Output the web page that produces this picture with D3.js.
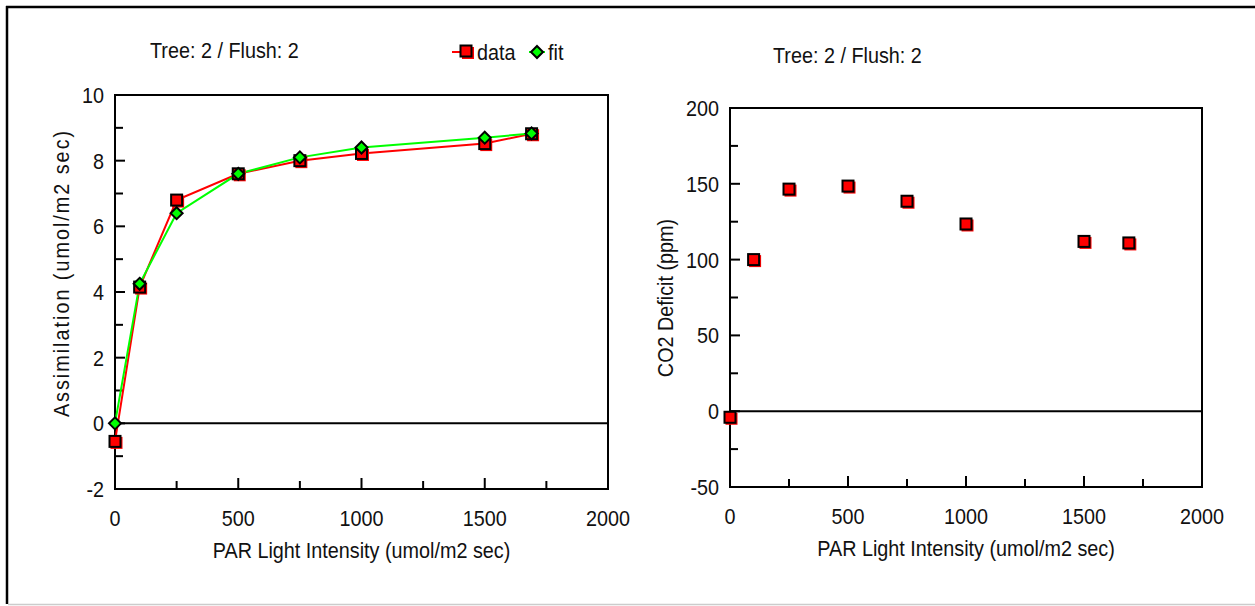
<!DOCTYPE html>
<html>
<head>
<meta charset="utf-8">
<script src="https://d3js.org/d3.v7.min.js"></script>
<style>
    body { margin: 0; background: #fff; }
    text { font-family: "Liberation Sans", Arial, sans-serif; fill: #111; font-size: 22px; }
</style>
</head>
<body>
<script>
//light response data, tree 2 / flush 2
var par = [0, 100, 250, 500, 750, 1000, 1500, 1690];
var assimData = [-0.55, 4.15, 6.8, 7.6, 8.0, 8.22, 8.52, 8.82];
var assimFit = [0, 4.25, 6.4, 7.6, 8.1, 8.4, 8.7, 8.83];
var deficit = [-4, 100, 146.5, 148.5, 138.5, 123.5, 112, 111];

var xTicks = [0, 500, 1000, 1500, 2000];
var assimTicks = [-2, 0, 2, 4, 6, 8, 10];
var deficitTicks = [-50, 0, 50, 100, 150, 200];

var titleText = "Tree: 2 / Flush: 2";
var xLabel = "PAR Light Intensity (umol/m2 sec)";

window.onload = function(){

    var w = 1255, h = 606;
    var svg = d3.select("body")
        .append("svg")
        .attr("width", w)
        .attr("height", h);

    //text in the original is a bit narrow, so squeeze it horizontally
    function label(g, x, y, txt, anchor, rot){
        return g.append("text")
            .attr("transform", "translate(" + x + "," + y + ")" + (rot ? " rotate(-90)" : "") + " scale(0.9,1)")
            .attr("text-anchor", anchor || "start")
            .text(txt);
    }

    //outer frame
    svg.append("line")
        .attr("x1", 7).attr("y1", 6).attr("x2", 7).attr("y2", 604)
        .style("stroke", "#000").style("stroke-width", 2.5);
    svg.append("line")
        .attr("x1", 6).attr("y1", 7).attr("x2", w).attr("y2", 7)
        .style("stroke", "#000").style("stroke-width", 2.5);
    svg.append("line")
        .attr("x1", 8).attr("y1", 604.5).attr("x2", w).attr("y2", 604.5)
        .style("stroke", "#ccc").style("stroke-width", 1.5);

    //draws one panel: frame, zero line, ticks and labels
    function panel(x, y, yTicks, yStep, yTitle, yTitleX, yTitleY, yTitleLen){
        var g = svg.append("g");
        var x0 = x.range()[0], x1 = x.range()[1];
        var y0 = y.range()[0], y1 = y.range()[1];

        //minor + major ticks, pointing inward
        var xMinor = d3.range(0, 2001, 250);
        g.selectAll(".xtick")
            .data(xMinor)
            .enter()
            .append("line")
            .attr("x1", function(d){ return x(d); })
            .attr("x2", function(d){ return x(d); })
            .attr("y1", y0)
            .attr("y2", function(d){ return y0 - (d % 500 == 0 ? 11 : 8); })
            .style("stroke", "#000").style("stroke-width", 2);

        var yDom = y.domain();
        var yMinor = d3.range(yDom[0], yDom[1] + yStep / 4, yStep / 2);
        g.selectAll(".ytick")
            .data(yMinor)
            .enter()
            .append("line")
            .attr("x1", x0)
            .attr("x2", function(d, i){ return x0 + (i % 2 == 0 ? 10 : 8); })
            .attr("y1", function(d){ return y(d); })
            .attr("y2", function(d){ return y(d); })
            .style("stroke", "#000").style("stroke-width", 2);

        //zero line
        g.append("line")
            .attr("x1", x0).attr("x2", x1)
            .attr("y1", y(0)).attr("y2", y(0))
            .style("stroke", "#000").style("stroke-width", 2);

        //frame
        g.append("rect")
            .attr("x", x0).attr("y", y1)
            .attr("width", x1 - x0).attr("height", y0 - y1)
            .style("fill", "none")
            .style("stroke", "#000").style("stroke-width", 2);

        //tick labels
        xTicks.forEach(function(d){
            label(g, x(d), y0 + 37, d, "middle");
        });
        yTicks.forEach(function(d){
            label(g, x0 - 11, y(d) + 8, d, "end");
        });

        //axis titles
        label(g, (x0 + x1) / 2, y0 + 69, xLabel, "middle");

        var yt = label(g, yTitleX, yTitleY, yTitle, "middle", true);
        if (yTitleLen) {
            yt.attr("textLength", yTitleLen).attr("lengthAdjust", "spacing");
        }
        return g;
    }

    //squares with the small red shadow
    function squares(g, x, y, values){
        g.selectAll(".shadow")
            .data(values)
            .enter()
            .append("rect")
            .attr("x", function(d, i){ return x(par[i]) - 4.5; })
            .attr("y", function(d){ return y(d) - 4.5; })
            .attr("width", 12).attr("height", 12)
            .style("fill", "#f00");
        g.selectAll(".sq")
            .data(values)
            .enter()
            .append("rect")
            .attr("x", function(d, i){ return x(par[i]) - 5.5; })
            .attr("y", function(d){ return y(d) - 5.5; })
            .attr("width", 11).attr("height", 11)
            .style("fill", "#f00")
            .style("stroke", "#000").style("stroke-width", 2);
    }

    function diamond(cx, cy, r){
        return "M" + cx + "," + (cy - r) + "L" + (cx + r) + "," + cy +
            "L" + cx + "," + (cy + r) + "L" + (cx - r) + "," + cy + "Z";
    }

    //left panel - assimilation
    var xL = d3.scaleLinear().domain([0, 2000]).range([115, 608]);
    var yL = d3.scaleLinear().domain([-2, 10]).range([489, 95]);
    var left = panel(xL, yL, assimTicks, 2, "Assimilation (umol/m2 sec)", 69, 274, 318);

    var lineData = d3.line()
        .x(function(d, i){ return xL(par[i]); })
        .y(function(d){ return yL(d); });

    left.append("path")
        .attr("d", lineData(assimData))
        .style("fill", "none")
        .style("stroke", "#f00").style("stroke-width", 2);
    left.append("path")
        .attr("d", lineData(assimFit))
        .style("fill", "none")
        .style("stroke", "#0f0").style("stroke-width", 2);

    squares(left, xL, yL, assimData);

    left.selectAll(".fit")
        .data(assimFit)
        .enter()
        .append("path")
        .attr("d", function(d, i){ return diamond(xL(par[i]), yL(d), 6); })
        .style("fill", "#0f0")
        .style("stroke", "#000").style("stroke-width", 2);

    //left title and legend
    label(svg, 150, 58, titleText);

    var legend = svg.append("g");
    legend.append("line")
        .attr("x1", 452).attr("x2", 474).attr("y1", 52).attr("y2", 52)
        .style("stroke", "#f00").style("stroke-width", 2);
    legend.append("rect")
        .attr("x", 462).attr("y", 47).attr("width", 12).attr("height", 12)
        .style("fill", "#f00");
    legend.append("rect")
        .attr("x", 460.5).attr("y", 45.5).attr("width", 11).attr("height", 11)
        .style("fill", "#f00")
        .style("stroke", "#000").style("stroke-width", 2);
    label(legend, 477, 60, "data");
    legend.append("line")
        .attr("x1", 529).attr("x2", 545).attr("y1", 52).attr("y2", 52)
        .style("stroke", "#0f0").style("stroke-width", 2);
    legend.append("path")
        .attr("d", diamond(537, 52, 6))
        .style("fill", "#0f0")
        .style("stroke", "#000").style("stroke-width", 2);
    label(legend, 548, 60, "fit");

    //right panel - CO2 deficit
    var xR = d3.scaleLinear().domain([0, 2000]).range([730, 1202]);
    var yR = d3.scaleLinear().domain([-50, 200]).range([487, 108]);
    var right = panel(xR, yR, deficitTicks, 50, "CO2 Deficit (ppm)", 673, 298, null);

    squares(right, xR, yR, deficit);

    label(svg, 773, 63, titleText);
};
</script>
</body>
</html>
